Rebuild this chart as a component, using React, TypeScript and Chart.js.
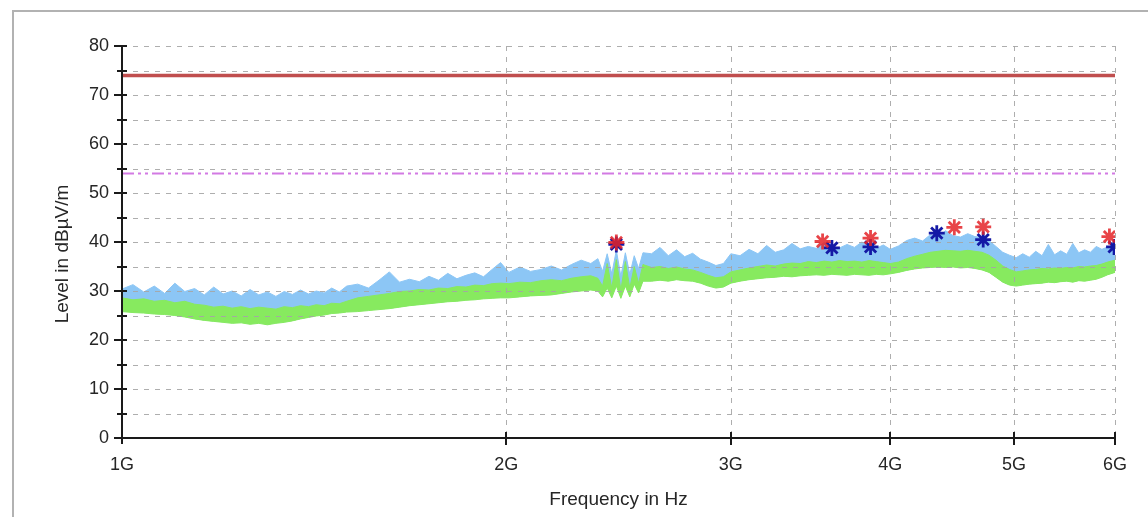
import React, { useEffect, useRef } from "react";
import { Chart, registerables } from "chart.js";

Chart.register(...registerables);

// Frequency sample points (GHz)
const FREQ_GHZ = [
  1.0, 1.02, 1.04, 1.06, 1.08, 1.1, 1.12, 1.14, 1.16, 1.18, 1.2, 1.22, 1.24, 1.26, 1.28, 1.3, 1.32, 1.34, 1.36, 1.38, 1.4, 1.42, 1.44, 1.46, 1.48, 1.5,
  1.53, 1.56, 1.59, 1.62, 1.65, 1.68, 1.71, 1.74, 1.77, 1.8, 1.83, 1.86, 1.89, 1.92, 1.95, 1.98,
  2.01, 2.05, 2.09, 2.13, 2.17, 2.21, 2.25, 2.29, 2.33,
  2.36, 2.38, 2.4, 2.42, 2.44, 2.46, 2.48, 2.5, 2.52, 2.54, 2.56,
  2.6, 2.64, 2.68, 2.72, 2.76, 2.8, 2.84, 2.88, 2.92, 2.96, 3.0,
  3.05, 3.1, 3.15, 3.2, 3.25, 3.3, 3.35, 3.4, 3.45, 3.5, 3.55, 3.6, 3.65, 3.7, 3.75, 3.8, 3.85, 3.9, 3.95, 4.0,
  4.06, 4.12, 4.18, 4.24, 4.3, 4.36, 4.42, 4.48, 4.54, 4.6, 4.66, 4.72, 4.78, 4.84, 4.9, 4.96,
  5.02, 5.08, 5.14, 5.2, 5.26, 5.32, 5.38, 5.44, 5.5, 5.56, 5.62, 5.68, 5.74, 5.8, 5.86, 5.92, 6.0,
];

// Peak trace (light blue), upper envelope in dBµV/m
const PEAK_TOP = [
  30.4, 31.3, 29.8, 31.0, 29.5, 31.6, 29.9, 30.5, 29.2, 30.8, 29.4, 30.0, 29.0, 30.3, 29.2, 29.8, 28.9, 29.9, 29.3, 30.2, 29.4, 30.0, 29.6, 30.6, 29.8, 31.0,
  31.4, 30.6, 32.2, 33.9, 31.8, 32.4, 31.9, 33.0, 32.2, 33.6, 32.5, 33.2, 33.7, 32.9, 34.4, 35.8,
  33.8, 34.9, 34.0, 34.4, 35.1, 34.3, 35.4, 36.3, 35.6,
  36.6, 34.0, 37.6, 33.5, 38.3, 33.0, 37.8, 33.4, 37.2, 34.6, 37.8,
  37.6, 38.9, 37.2, 38.4, 37.0, 37.7, 36.5, 35.9, 35.2, 35.6, 37.6,
  37.2, 38.5, 37.6, 39.3, 37.9, 38.4, 39.7, 38.6, 39.1, 38.7, 39.9, 39.0, 38.8, 39.5, 38.9, 40.0, 39.2, 38.7, 39.4, 38.5,
  39.2, 40.3, 40.8, 40.2, 41.5, 41.0, 42.3, 41.3, 41.0, 41.7, 41.1, 40.9, 40.3, 39.1, 37.9, 37.3,
  36.8, 37.6, 36.9, 38.1, 37.2, 39.5, 37.4, 38.2, 37.5, 39.7, 37.8, 38.4, 37.9, 39.1, 38.5, 39.0, 39.3,
];

// Average trace (green), upper edge
const AVG_TOP = [
  28.6, 28.2, 28.4, 27.9, 28.1, 27.6, 27.9, 27.3, 27.1, 26.7, 26.9, 26.5, 26.8, 26.4, 26.7, 26.5, 26.3, 26.8, 26.6, 27.0, 26.8, 27.2, 27.0, 27.5, 27.4, 27.9,
  28.6, 28.9, 29.2, 29.5, 29.9, 30.0, 30.3, 30.2, 30.6, 30.5, 30.9, 30.8, 31.2, 31.1, 31.5, 31.6,
  31.5, 31.8, 31.7, 32.1, 32.3, 32.1, 32.6, 32.9, 33.1,
  32.6, 31.0, 35.6, 30.6, 36.4, 30.2, 36.0, 30.6, 35.0, 31.6, 35.4,
  34.8, 35.0, 34.6, 34.9, 34.5, 34.3, 33.8, 33.2, 32.7, 32.9, 33.9,
  34.3, 34.7, 35.0, 35.3, 35.1, 35.5, 35.7, 35.6, 36.0, 35.8, 36.1, 35.9, 36.2, 36.0, 36.1, 35.9, 36.2, 36.0, 35.8, 35.6,
  35.9, 36.6, 37.1, 37.5, 37.9, 38.1, 38.3, 38.2, 38.1, 38.3, 38.1, 37.9, 37.3, 36.3, 35.1, 34.4,
  33.9, 34.1, 34.3, 34.4, 34.6, 34.5, 34.7, 34.6, 34.8, 34.7, 35.0, 34.9, 35.1, 35.2, 35.5, 35.9, 36.3,
];

// Average trace (green), lower edge
const AVG_BOTTOM = [
  25.8, 25.6, 25.5, 25.3, 25.2, 25.0, 24.7, 24.3, 24.0, 23.8, 23.6, 23.4, 23.5, 23.2, 23.4, 23.1, 23.4, 23.6, 23.9, 24.3, 24.6, 24.9, 25.1, 25.4, 25.5, 25.7,
  25.8, 26.0, 26.2, 26.4, 26.7, 27.0, 27.2, 27.4, 27.6, 27.8, 27.9, 28.1, 28.2, 28.4, 28.5, 28.6,
  28.6, 28.8, 29.0, 29.1, 29.2, 29.5, 29.8, 30.0, 30.2,
  30.0, 28.8, 30.6, 28.6, 31.0, 28.5, 31.0, 28.8, 31.4, 29.6, 32.0,
  32.0, 32.2, 32.0, 32.3, 32.1, 32.0, 31.6, 31.0, 30.6, 30.8, 31.6,
  32.0, 32.3, 32.5, 32.7, 32.8, 33.0, 32.9, 33.1, 33.2, 33.3, 33.2, 33.4, 33.3, 33.2, 33.4, 33.3, 33.2, 33.4, 33.3, 33.5,
  33.8, 34.2, 34.5, 34.7, 34.8, 34.9, 34.8, 34.9, 34.7, 34.8, 34.6, 34.3, 33.8, 32.8, 31.8, 31.2,
  31.0, 31.2, 31.4, 31.5, 31.6, 31.8, 31.7, 31.9, 32.0, 31.8, 32.1, 32.0, 32.2, 32.4, 32.8, 33.3, 33.8,
];

// Limits
const LIMIT_FREQ = [1.0, 6.0];
const LIMIT_PEAK = [74, 74];
const LIMIT_AVG = [54, 54];

// Final measurement markers
const PEAK_MARK_FREQ = [2.44, 3.54, 3.86, 4.49, 4.73, 5.94];
const PEAK_MARK_LEVEL = [39.9, 40.1, 40.8, 43.0, 43.1, 41.1];
const AVG_MARK_FREQ = [2.44, 3.6, 3.86, 4.35, 4.73, 5.99];
const AVG_MARK_LEVEL = [39.5, 38.8, 39.0, 41.8, 40.5, 39.0];

// Axes
const X_TICKS = [1, 2, 3, 4, 5, 6];
const X_TICK_LABELS = ["1G", "2G", "3G", "4G", "5G", "6G"];
const X_GRID = [2, 3, 4, 5, 6];
const Y_TICKS_MINOR = [0, 5, 10, 15, 20, 25, 30, 35, 40, 45, 50, 55, 60, 65, 70, 75, 80];
const Y_GRID = [5, 10, 15, 20, 25, 30, 35, 40, 45, 50, 55, 60, 65, 70, 75, 80];
const X_TITLE = "Frequency in Hz";
const Y_TITLE = "Level in dBµV/m";

const FONT = "'Liberation Sans', Arial, sans-serif";
const TEXT_COLOR = "#262626";
const BLUE = "rgb(140,198,245)";
const GREEN = "rgb(135,234,95)";

const pts = (xs: number[], ys: number[]) => xs.map((x, i) => ({ x, y: ys[i] }));

const gridAxesPlugin = {
  id: "gridAxes",
  afterDatasetDraw(chart: any, args: any) {
    if (args.index !== 2) return;
    const { ctx, chartArea, scales } = chart;
    const { left, right, top, bottom } = chartArea;
    const x = scales.x;
    const y = scales.y;
    ctx.save();
    ctx.strokeStyle = "rgba(165,165,165,0.9)";
    ctx.lineWidth = 1;
    ctx.setLineDash([5, 6]);
    for (const v of Y_GRID) {
      const py = Math.round(y.getPixelForValue(v)) + 0.5;
      ctx.beginPath();
      ctx.moveTo(left, py);
      ctx.lineTo(right, py);
      ctx.stroke();
    }
    for (const f of X_GRID) {
      const px = Math.round(x.getPixelForValue(f)) + 0.5;
      ctx.beginPath();
      ctx.moveTo(px, top);
      ctx.lineTo(px, bottom);
      ctx.stroke();
    }
    ctx.restore();
  },
  afterDraw(chart: any) {
    const { ctx, chartArea, scales } = chart;
    const { left, right, top, bottom } = chartArea;
    const x = scales.x;
    const y = scales.y;
    ctx.save();
    ctx.strokeStyle = "#1a1a1a";
    ctx.lineWidth = 2;
    ctx.setLineDash([]);
    ctx.beginPath();
    ctx.moveTo(left, top);
    ctx.lineTo(left, bottom + 6);
    ctx.moveTo(left, bottom);
    ctx.lineTo(right, bottom);
    for (const v of Y_TICKS_MINOR) {
      const py = Math.round(y.getPixelForValue(v));
      const len = v % 10 === 0 ? 8 : 5;
      ctx.moveTo(left - len, py);
      ctx.lineTo(left + 5, py);
    }
    for (const f of X_GRID) {
      const px = Math.round(x.getPixelForValue(f));
      ctx.moveTo(px, bottom - 6);
      ctx.lineTo(px, bottom + 7);
    }
    ctx.stroke();

    // rotated y-axis title
    ctx.translate(63, 254);
    ctx.rotate(-Math.PI / 2);
    ctx.fillStyle = TEXT_COLOR;
    ctx.font = `19px ${FONT}`;
    ctx.textAlign = "center";
    ctx.textBaseline = "middle";
    ctx.fillText(Y_TITLE, 0, 0);
    ctx.restore();
  },
};

export default function App() {
  const canvasRef = useRef<HTMLCanvasElement | null>(null);

  useEffect(() => {
    if (!canvasRef.current) return;
    const chart = new Chart(canvasRef.current, {
      type: "scatter",
      data: {
        datasets: [
          {
            label: "avg-bottom",
            data: pts(FREQ_GHZ, AVG_BOTTOM),
            showLine: true,
            borderColor: GREEN,
            borderWidth: 1,
            pointRadius: 0,
            fill: false,
            order: 55,
          },
          {
            label: "peak",
            data: pts(FREQ_GHZ, PEAK_TOP),
            showLine: true,
            borderColor: BLUE,
            backgroundColor: BLUE,
            borderWidth: 1,
            pointRadius: 0,
            fill: 0,
            order: 60,
          },
          {
            label: "avg",
            data: pts(FREQ_GHZ, AVG_TOP),
            showLine: true,
            borderColor: GREEN,
            backgroundColor: GREEN,
            borderWidth: 1,
            pointRadius: 0,
            fill: 0,
            order: 50,
          },
          {
            label: "limit-pk",
            data: pts(LIMIT_FREQ, LIMIT_PEAK),
            showLine: true,
            borderColor: "rgb(192,78,78)",
            borderWidth: 3.5,
            pointRadius: 0,
            order: 40,
          },
          {
            label: "limit-av",
            data: pts(LIMIT_FREQ, LIMIT_AVG),
            showLine: true,
            borderColor: "rgba(208,115,225,0.95)",
            borderWidth: 2,
            borderDash: [12, 4, 3, 4, 3, 4],
            pointRadius: 0,
            order: 30,
          },
          {
            label: "avg-marks",
            data: pts(AVG_MARK_FREQ, AVG_MARK_LEVEL),
            pointStyle: "star",
            pointRadius: 8,
            borderWidth: 2.8,
            borderColor: "rgb(20,25,165)",
            backgroundColor: "rgb(20,25,165)",
            order: 20,
          },
          {
            label: "peak-marks",
            data: pts(PEAK_MARK_FREQ, PEAK_MARK_LEVEL),
            pointStyle: "star",
            pointRadius: 8,
            borderWidth: 2.8,
            borderColor: "rgba(228,35,40,0.85)",
            backgroundColor: "rgba(228,35,40,0.85)",
            order: 10,
          },
        ],
      },
      options: {
        animation: false,
        responsive: false,
        events: [],
        layout: { padding: { left: 49, right: 33, top: 46, bottom: 2 } },
        plugins: {
          legend: { display: false },
          tooltip: { enabled: false },
        },
        scales: {
          x: {
            type: "logarithmic",
            min: 1,
            max: 6,
            afterBuildTicks(s: any) {
              s.ticks = X_TICKS.map((v) => ({ value: v }));
            },
            afterFit(s: any) {
              s.height = 77;
            },
            grid: { display: false, drawTicks: false },
            border: { display: false },
            ticks: {
              autoSkip: false,
              maxRotation: 0,
              minRotation: 0,
              padding: 16,
              color: TEXT_COLOR,
              font: { family: FONT, size: 18 },
              callback: (_v: any, i: number) => X_TICK_LABELS[i],
            },
            title: {
              display: true,
              text: X_TITLE,
              color: TEXT_COLOR,
              font: { family: FONT, size: 19 },
              padding: { top: 4, bottom: 4 },
            },
          },
          y: {
            type: "linear",
            min: 0,
            max: 80,
            afterFit(s: any) {
              s.width = 73;
            },
            grid: { display: false, drawTicks: false },
            border: { display: false },
            ticks: {
              stepSize: 10,
              padding: 13,
              color: TEXT_COLOR,
              font: { family: FONT, size: 18 },
            },
            title: { display: false },
          },
        },
      },
      plugins: [gridAxesPlugin],
    } as any);
    return () => chart.destroy();
  }, []);

  return (
    <div
      style={{
        position: "fixed",
        left: 0,
        top: 0,
        width: 1148,
        height: 517,
        background: "#fff",
        overflow: "hidden",
      }}
    >
      <div
        style={{
          position: "absolute",
          left: 12,
          top: 10,
          width: 1200,
          height: 600,
          borderTop: "2px solid #b2b2b2",
          borderLeft: "2px solid #b2b2b2",
        }}
      />
      <canvas
        ref={canvasRef}
        width={1148}
        height={517}
        style={{ position: "absolute", left: 0, top: 0, width: 1148, height: 517 }}
      />
    </div>
  );
}
